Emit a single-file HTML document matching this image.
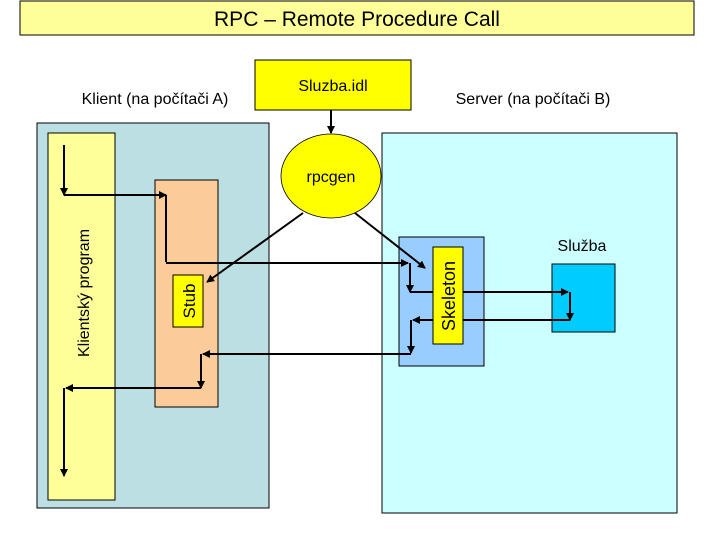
<!DOCTYPE html>
<html><head><meta charset="utf-8"><style>
html,body{margin:0;padding:0;background:#fff;}
svg{display:block;font-family:"Liberation Sans",Arial,sans-serif;}
</style></head><body>
<svg width="720" height="540" viewBox="0 0 720 540" xmlns="http://www.w3.org/2000/svg">
<defs>
<marker id="a" markerWidth="8" markerHeight="8" refX="7" refY="4" orient="auto" markerUnits="userSpaceOnUse">
<path d="M0,0 L8,4 L0,8 z" fill="#000"/></marker>
</defs>
<rect x="20" y="1" width="674" height="34" fill="#ffff99" stroke="#000"/>
<text x="357" y="26" font-size="21" text-anchor="middle">RPC – Remote Procedure Call</text>

<text x="155" y="104" font-size="16" text-anchor="middle">Klient (na počítači A)</text>
<text x="533" y="104" font-size="16" text-anchor="middle">Server (na počítači B)</text>
<rect x="255" y="60" width="156" height="50" fill="#ffff00" stroke="#000"/>
<text x="333" y="91" font-size="16" text-anchor="middle">Sluzba.idl</text>

<rect x="37" y="123" width="232" height="385" fill="#bcdfe3" stroke="#000"/>
<rect x="48" y="133" width="67" height="367" fill="#ffff99" stroke="#000"/>
<text transform="translate(89,293) rotate(-90)" font-size="16" text-anchor="middle">Klientský program</text>
<rect x="155" y="180" width="63" height="227" fill="#fccb9a" stroke="#000"/>

<rect x="382" y="133" width="295" height="380" fill="#ccffff" stroke="#000"/>
<rect x="399" y="237" width="85" height="129" fill="#99ccff" stroke="#000"/>
<rect x="552" y="264" width="63" height="68" fill="#00ccff" stroke="#000"/>
<text x="582" y="251" font-size="16" text-anchor="middle">Služba</text>

<ellipse cx="331" cy="176" rx="50" ry="42" fill="#ffff00" stroke="#000" stroke-width="0.8"/>
<text x="331" y="182" font-size="16" text-anchor="middle">rpcgen</text>

<g stroke="#000" stroke-width="2" fill="none">
<line x1="331" y1="110" x2="331" y2="133" marker-end="url(#a)"/>
<line x1="303" y1="213" x2="207" y2="282" marker-end="url(#a)"/>
<line x1="355" y1="213" x2="425" y2="268" marker-end="url(#a)"/>
<polyline points="64,145 64,195" marker-end="url(#a)"/>
<polyline points="64,195 166,195" marker-end="url(#a)"/>
<polyline points="166,195 166,262"/>
<polyline points="166,263 408,263" marker-end="url(#a)"/>
<polyline points="410,263 410,292" marker-end="url(#a)"/>
<polyline points="410,292 568,292" marker-end="url(#a)"/>
<polyline points="570,292 570,320" marker-end="url(#a)"/>
<polyline points="570,320 413,320" marker-end="url(#a)"/>
<polyline points="411,320 411,353" marker-end="url(#a)"/>
<polyline points="411,354 203,354" marker-end="url(#a)"/>
<polyline points="201,354 201,388" marker-end="url(#a)"/>
<polyline points="201,388 66,388" marker-end="url(#a)"/>
<polyline points="64,388 64,476" marker-end="url(#a)"/>
</g>

<rect x="173" y="275" width="30" height="52" fill="#ffff00" stroke="#000"/>
<text transform="translate(195,301) rotate(-90)" font-size="17" text-anchor="middle">Stub</text>
<rect x="433" y="247" width="30" height="97" fill="#ffff00" stroke="#000"/>
<text transform="translate(455,296) rotate(-90)" font-size="18" text-anchor="middle">Skeleton</text>
</svg>
</body></html>
